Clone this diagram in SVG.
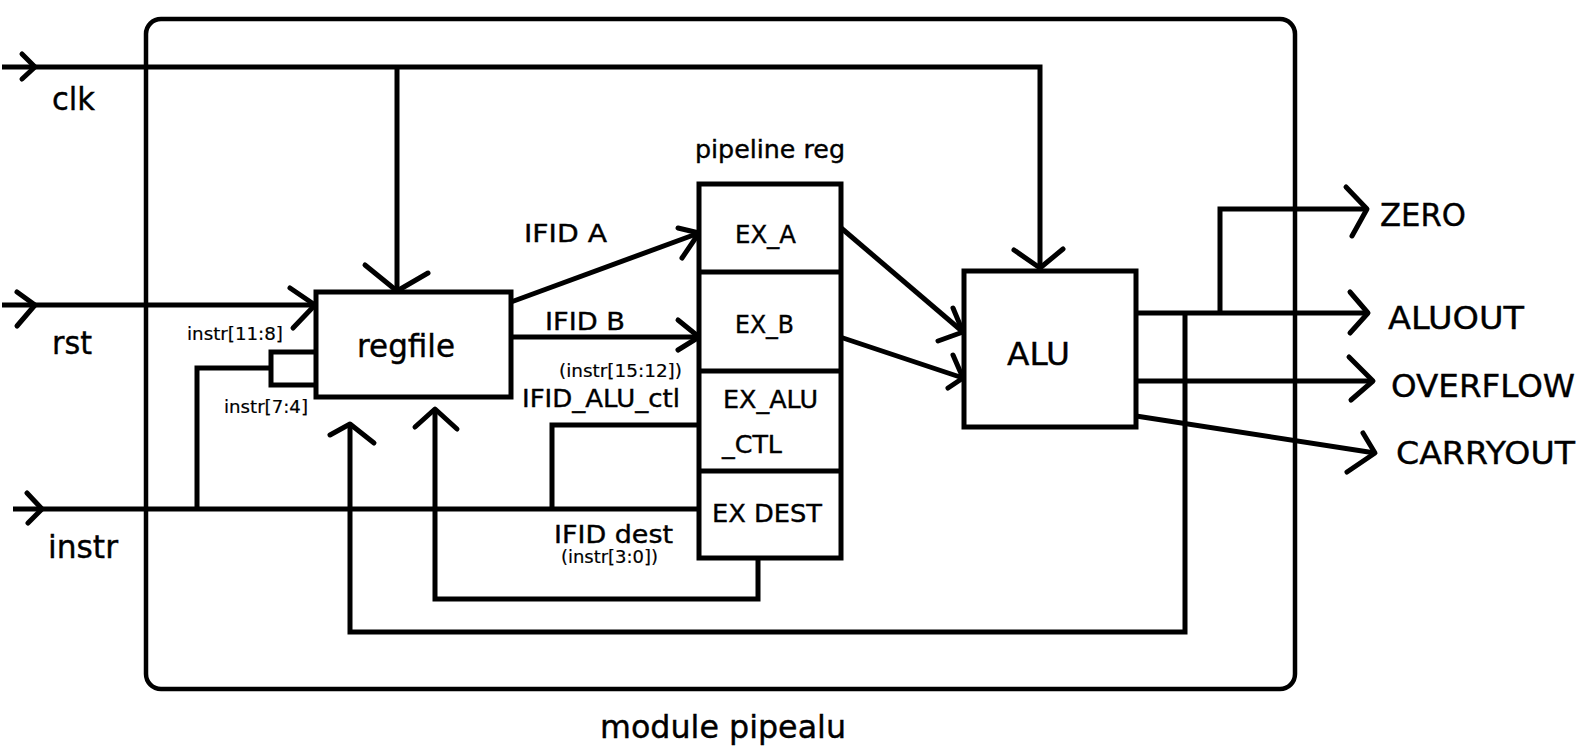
<svg xmlns="http://www.w3.org/2000/svg" width="1595" height="751" viewBox="0 0 1595 751">
<style>
.ln{fill:none;stroke:#000;stroke-width:5;stroke-linecap:butt;stroke-linejoin:miter}
.ar{fill:none;stroke:#000;stroke-width:5;stroke-linecap:round;stroke-linejoin:round}
.box{fill:#fff;stroke:#000;stroke-width:5}
text{font-family:"DejaVu Sans","Liberation Sans",sans-serif;fill:#000;stroke:#000;stroke-width:0.4}
.big{font-size:32px}
.mid{font-size:25px}
.sm{font-size:18px;stroke-width:0.2}
</style>
<rect width="1595" height="751" fill="#fff"/>
<g id="module">
<rect x="146" y="19" width="1149" height="670" rx="15" ry="15" fill="none" stroke="#000" stroke-width="4.5"/>
<text class="big" x="600" y="738" textLength="246" lengthAdjust="spacingAndGlyphs">module pipealu</text>
</g>
<g id="connectors">
<!-- clk -->
<polyline class="ln" points="2,67 1040,67 1040,268"/>
<line class="ln" x1="397" y1="67" x2="397" y2="291"/>
<polyline class="ar" points="22,54 35,67 22,79"/>
<polyline class="ar" points="365,265 397,291 428,273"/>
<polyline class="ar" points="1014,250 1040,268 1063,249"/>
<!-- rst -->
<line class="ln" x1="2" y1="305" x2="315" y2="305"/>
<polyline class="ar" points="17,292 35,305 17,326"/>
<polyline class="ar" points="290,288 315,305 293,328"/>
<!-- instr -->
<line class="ln" x1="13" y1="509" x2="703" y2="509"/>
<polyline class="ar" points="27,493 42,509 28,523"/>
<polyline class="ln" points="197,509 197,368 271,368"/>
<polyline class="ln" points="315,352 271,352 271,385 315,385"/>
<polyline class="ln" points="552,509 552,425 699,425"/>
<!-- regfile to pipeline -->
<line class="ln" x1="511" y1="302" x2="699" y2="233"/>
<polyline class="ar" points="678,228 699,233 682,258"/>
<line class="ln" x1="511" y1="337" x2="699" y2="337"/>
<polyline class="ar" points="678,320 699,337 678,350"/>
<!-- EX_DEST feedback -->
<polyline class="ln" points="758,536 758,599 435,599 435,410"/>
<polyline class="ar" points="415,427 435,409 457,429"/>
<!-- pipeline to ALU -->
<line class="ln" x1="840" y1="227" x2="963" y2="332"/>
<polyline class="ar" points="953,308 963,332 938,341"/>
<line class="ln" x1="840" y1="337" x2="963" y2="378"/>
<polyline class="ar" points="953,355 963,378 948,388"/>
<!-- ALU outputs -->
<line class="ln" x1="1136" y1="313" x2="1368" y2="313"/>
<polyline class="ar" points="1350,292 1368,313 1350,333"/>
<polyline class="ln" points="1220,313 1220,209 1367,209"/>
<polyline class="ar" points="1346,187 1367,209 1352,236"/>
<line class="ln" x1="1136" y1="381" x2="1373" y2="381"/>
<polyline class="ar" points="1349,357 1373,381 1351,400"/>
<line class="ln" x1="1136" y1="416" x2="1375" y2="453"/>
<polyline class="ar" points="1363,433 1375,453 1347,472"/>
<!-- ALU feedback -->
<polyline class="ln" points="1185,313 1185,632 350,632 350,426"/>
<polyline class="ar" points="330,435 350,424 374,443"/>
</g>
<g id="inputs">
<text class="big" x="52" y="110" textLength="43" lengthAdjust="spacingAndGlyphs">clk</text>
<text class="big" x="52" y="354" textLength="40" lengthAdjust="spacingAndGlyphs">rst</text>
<text class="big" x="48" y="558" textLength="70" lengthAdjust="spacingAndGlyphs">instr</text>
</g>
<g id="regfile">
<rect class="box" x="316" y="292" width="195" height="105"/>
<text class="big" x="357" y="357" textLength="98" lengthAdjust="spacingAndGlyphs">regfile</text>
</g>
<g id="labels">
<text class="sm" x="187" y="340" textLength="96" lengthAdjust="spacingAndGlyphs">instr[11:8]</text>
<text class="sm" x="224" y="413" textLength="84" lengthAdjust="spacingAndGlyphs">instr[7:4]</text>
<text class="mid" x="524" y="242" textLength="83" lengthAdjust="spacingAndGlyphs">IFID A</text>
<text class="mid" x="545" y="330" textLength="80" lengthAdjust="spacingAndGlyphs">IFID B</text>
<text class="sm" x="559" y="377" textLength="123" lengthAdjust="spacingAndGlyphs">(instr[15:12])</text>
<text class="mid" x="522" y="407" textLength="158" lengthAdjust="spacingAndGlyphs">IFID_ALU_ctl</text>
<text class="mid" x="554" y="543" textLength="119" lengthAdjust="spacingAndGlyphs">IFID dest</text>
<text class="sm" x="561" y="563" textLength="97" lengthAdjust="spacingAndGlyphs">(instr[3:0])</text>
</g>
<g id="pipeline_reg">
<text class="mid" x="695" y="158" textLength="150" lengthAdjust="spacingAndGlyphs">pipeline reg</text>
<rect class="box" x="699" y="184" width="142" height="374"/>
<line class="ln" x1="699" y1="272" x2="841" y2="272"/>
<line class="ln" x1="699" y1="371" x2="841" y2="371"/>
<line class="ln" x1="699" y1="471" x2="841" y2="471"/>
<text class="mid" x="735" y="243" textLength="61" lengthAdjust="spacingAndGlyphs">EX_A</text>
<text class="mid" x="735" y="333" textLength="59" lengthAdjust="spacingAndGlyphs">EX_B</text>
<text class="mid" x="723" y="408" textLength="95" lengthAdjust="spacingAndGlyphs">EX_ALU</text>
<text class="mid" x="722" y="453" textLength="60" lengthAdjust="spacingAndGlyphs">_CTL</text>
<text class="mid" x="712" y="522" textLength="110" lengthAdjust="spacingAndGlyphs">EX DEST</text>
</g>
<g id="alu">
<rect class="box" x="964" y="271" width="172" height="156"/>
<text class="big" x="1007" y="365" textLength="63" lengthAdjust="spacingAndGlyphs">ALU</text>
</g>
<g id="outputs">
<text class="big" x="1380" y="226" textLength="86" lengthAdjust="spacingAndGlyphs">ZERO</text>
<text class="big" x="1388" y="329" textLength="136" lengthAdjust="spacingAndGlyphs">ALUOUT</text>
<text class="big" x="1391" y="397" textLength="184" lengthAdjust="spacingAndGlyphs">OVERFLOW</text>
<text class="big" x="1396" y="464" textLength="179" lengthAdjust="spacingAndGlyphs">CARRYOUT</text>
</g>
</svg>
